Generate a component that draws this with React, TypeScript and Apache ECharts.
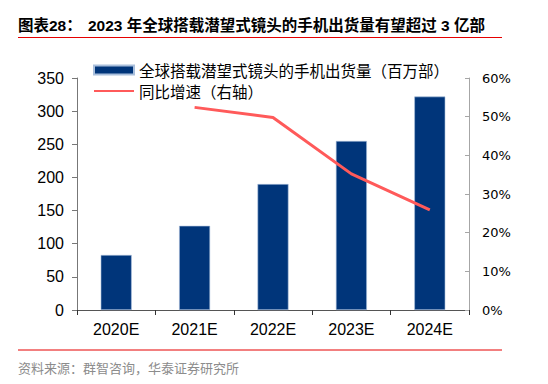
import React, { useEffect, useRef } from "react";
import * as echarts from "echarts";

const categories = ["2020E", "2021E", "2022E", "2023E", "2024E"];
const shipments = [83, 127, 190, 255, 322];
const growth: (number | string)[] = ["-", 52.4, 49.8, 35.2, 25.9];
const leftTicks = { min: 0, max: 350, interval: 50 };
const rightTicks = { min: 0, max: 60, interval: 10 };
const barName = "全球搭载潜望式镜头的手机出货量（百万部）";
const lineName = "同比增速（右轴）";
const titleLabel = "图表28：";
const titleText = "2023 年全球搭载潜望式镜头的手机出货量有望超过 3 亿部";
const sourceText = "资料来源：群智咨询，华泰证券研究所";

export default function App() {
  const ref = useRef<HTMLDivElement>(null);
  useEffect(() => {
    if (!ref.current) return;
    const chart = echarts.init(ref.current, null, { renderer: "svg" });
    const sans = "'Liberation Sans', Arial, 'Noto Sans CJK SC', sans-serif";
    chart.setOption({
      animation: false,
      backgroundColor: "#ffffff",
      graphic: [
        {
          type: "text",
          left: 18,
          top: 18,
          style: {
            text: titleLabel,
            font: "bold 15.5px 'Liberation Sans', 'Noto Sans CJK SC', sans-serif",
            fill: "#000000",
          },
        },
        {
          type: "text",
          left: 88,
          top: 18,
          style: {
            text: titleText,
            font: "bold 15.5px 'Liberation Sans', 'Noto Sans CJK SC', sans-serif",
            fill: "#000000",
          },
        },
        {
          type: "line",
          shape: { x1: 18, y1: 37.5, x2: 502, y2: 37.5 },
          style: { stroke: "#e60000", lineWidth: 1 },
        },
        {
          type: "line",
          shape: { x1: 18, y1: 350, x2: 502, y2: 350 },
          style: { stroke: "#e60000", lineWidth: 1 },
        },
        {
          type: "text",
          left: 18,
          top: 361,
          style: {
            text: sourceText,
            font: "13px 'Noto Sans CJK SC', sans-serif",
            fill: "#8c8c8c",
          },
        },
      ],
      legend: {
        orient: "vertical",
        left: 88,
        top: 57,
        itemWidth: 40,
        itemHeight: 9,
        itemGap: 5,
        textStyle: {
          fontFamily: "'Noto Sans CJK SC', sans-serif",
          fontSize: 15.5,
          lineHeight: 16,
          color: "#000000",
        },
        data: [
          { name: barName, icon: "rect" },
          { name: lineName, itemStyle: { opacity: 0 } },
        ],
      },
      grid: { left: 77, right: 79, top: 78, bottom: 74, containLabel: false },
      xAxis: {
        type: "category",
        data: categories,
        boundaryGap: true,
        axisLine: { lineStyle: { color: "#555555", width: 1 } },
        axisTick: { show: true, length: 5, lineStyle: { color: "#333333" } },
        axisLabel: { fontFamily: sans, fontSize: 16, color: "#000000", margin: 11 },
      },
      yAxis: [
        {
          type: "value",
          min: leftTicks.min,
          max: leftTicks.max,
          interval: leftTicks.interval,
          splitLine: { show: false },
          axisLine: { show: true, lineStyle: { color: "#777777" } },
          axisTick: { show: true, length: 5, lineStyle: { color: "#777777" } },
          axisLabel: { fontFamily: sans, fontSize: 16, color: "#000000", margin: 13 },
        },
        {
          type: "value",
          min: rightTicks.min,
          max: rightTicks.max,
          interval: rightTicks.interval,
          position: "right",
          splitLine: { show: false },
          axisLine: { show: true, lineStyle: { color: "#a6a6a6" } },
          axisTick: { show: true, inside: true, length: 4, lineStyle: { color: "#a6a6a6" } },
          axisLabel: {
            fontFamily: "'DejaVu Sans', sans-serif",
            fontSize: 13,
            color: "#000000",
            margin: 13,
            formatter: "{value}%",
          },
        },
      ],
      series: [
        {
          name: barName,
          type: "bar",
          data: shipments,
          barWidth: 31,
          yAxisIndex: 0,
          itemStyle: { color: "#00357a", borderColor: "#a9bfdc", borderWidth: 0.6 },
        },
        {
          name: lineName,
          type: "line",
          data: growth,
          yAxisIndex: 1,
          symbol: "none",
          lineStyle: { color: "#ff5a5a", width: 3 },
          itemStyle: { color: "#ff5a5a" },
        },
      ],
    });
    return () => chart.dispose();
  }, []);
  return (
    <div
      ref={ref}
      style={{ position: "fixed", left: 0, top: 0, width: 548, height: 384 }}
    />
  );
}
